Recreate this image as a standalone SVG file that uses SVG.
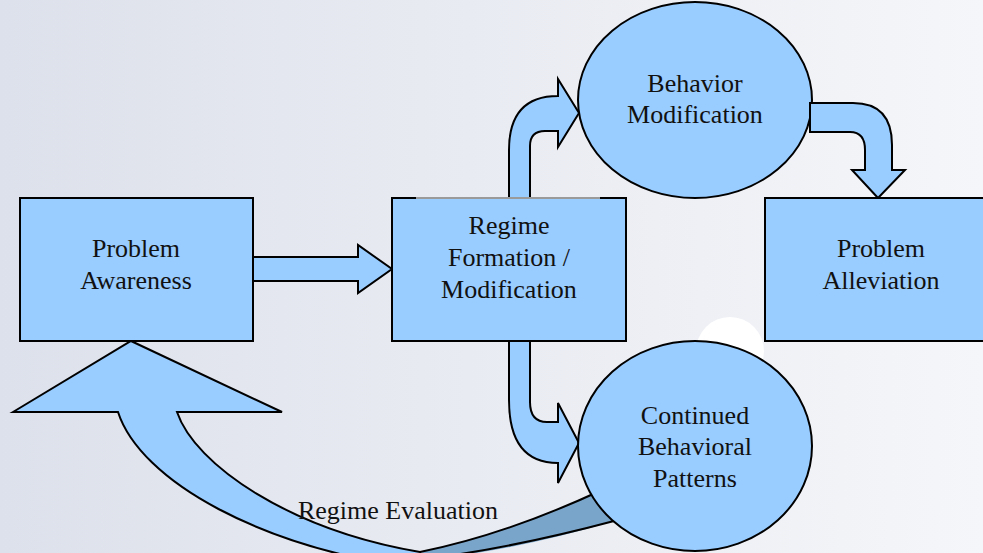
<svg xmlns="http://www.w3.org/2000/svg" width="983" height="553" viewBox="0 0 983 553">
<defs>
<linearGradient id="bg" x1="0" y1="0" x2="1" y2="0">
<stop offset="0" stop-color="#dde1eb"/>
<stop offset="1" stop-color="#f5f6f9"/>
</linearGradient>
<style>
.shape{fill:#99ccff;stroke:#000;stroke-width:2;stroke-linejoin:miter}
.dark{fill:#7aa5cb;stroke:none}
.edge{fill:none;stroke:#000;stroke-width:2}
.lbl{font-family:"Liberation Serif","Times New Roman",serif;font-size:26px;fill:#111;text-anchor:middle}
</style>
</defs>
<rect x="0" y="0" width="983" height="553" fill="url(#bg)"/>
<circle cx="730" cy="351" r="34" fill="#ffffff"/>

<g id="connectors">
<path class="dark" d="M420,552 Q505,535 602,490 L614,521 Q525,548 440,558 Z"/>
<path class="edge" d="M420,552 Q505,535 602,490"/>
<path class="edge" d="M440,557 Q520,546 614,521"/>
<path class="shape" d="M13,412 L131,341 L282,412 L177,412 C195,465 290,530 420,552 L424,570 L430,570 C260,550 140,480 118,412 Z"/>
<path class="shape" d="M253,257 L358,257 L358,245 L392,269 L358,293 L358,281 L253,281 Z"/>
<path class="shape" d="M509,198 L509,150 Q509,96 558,96 L558,79 L579,113 L558,147 L558,131 L545,131 Q530,131 530,146 L530,198 Z"/>
<path class="shape" d="M509,341 L509,400 Q509,463 558,463 L558,483 L579,443 L558,403 L558,422 L547,422 Q530,422 530,402 L530,341 Z"/>
</g>

<g id="n-awareness">
<rect class="shape" x="20" y="198" width="233" height="143"/>
<text class="lbl" x="136" y="257">Problem</text>
<text class="lbl" x="136" y="289">Awareness</text>
</g>

<g id="n-regime">
<rect class="shape" x="392" y="198" width="234" height="143"/>
<line x1="416" y1="198" x2="600" y2="198" stroke="#9a9a9a" stroke-width="2"/>
<text class="lbl" x="509" y="234">Regime</text>
<text class="lbl" x="509" y="266">Formation /</text>
<text class="lbl" x="509" y="298">Modification</text>
</g>

<g id="n-behavior">
<ellipse class="shape" cx="695" cy="100" rx="117" ry="98"/>
<text class="lbl" x="695" y="92">Behavior</text>
<text class="lbl" x="695" y="123">Modification</text>
</g>

<g id="c-right">
<path class="shape" d="M810,103 L853,103 Q892,103 892,145 L892,170 L905,170 L878,198 L852,170 L865,170 L865,150 Q865,132 850,132 L810,132 Z"/>
</g>

<g id="n-alleviation">
<rect class="shape" x="765" y="198" width="240" height="143"/>
<text class="lbl" x="881" y="257">Problem</text>
<text class="lbl" x="881" y="289">Alleviation</text>
</g>

<g id="n-continued">
<ellipse class="shape" cx="695" cy="446" rx="117" ry="105"/>
<text class="lbl" x="695" y="424">Continued</text>
<text class="lbl" x="695" y="455">Behavioral</text>
<text class="lbl" x="695" y="487">Patterns</text>
</g>

<text class="lbl" x="398" y="519">Regime Evaluation</text>
</svg>
